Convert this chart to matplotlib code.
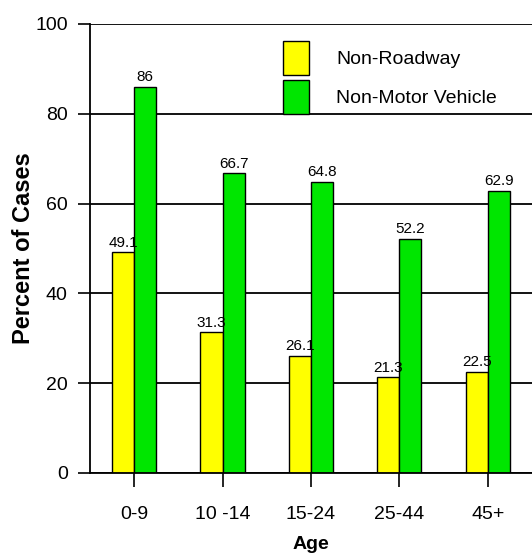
import numpy as np
import matplotlib.pyplot as plt

ages = ["0-9", "10 -14", "15-24", "25-44", "45+"]
non_roadway = [49.1, 31.3, 26.1, 21.3, 22.5]
non_motor = [86, 66.7, 64.8, 52.2, 62.9]
yellow_labels = ["49.1", "31.3", "26.1", "21.3", "22.5"]
green_labels = ["86", "66.7", "64.8", "52.2", "62.9"]

plt.rcParams["font.family"] = ["Liberation Sans", "DejaVu Sans"]

fig = plt.figure(figsize=(5.32, 5.57), dpi=100)
ax = fig.add_axes([0.169, 0.151, 0.831, 0.806])

x = np.arange(len(ages))
w = 0.25
ax.set_axisbelow(True)
ax.yaxis.grid(True, color="black", linewidth=1.3)
ax.bar(x - w / 2, non_roadway, w, color="#ffff00", edgecolor="black",
       linewidth=1.0, label="Non-Roadway")
ax.bar(x + w / 2, non_motor, w, color="#00e600", edgecolor="black",
       linewidth=1.0, label="Non-Motor Vehicle")

for xi, v, t in zip(x, non_roadway, yellow_labels):
    ax.text(xi - w / 2, v + 0.6, t, ha="center", va="bottom", fontsize=11)
for xi, v, t in zip(x, non_motor, green_labels):
    ax.text(xi + w / 2, v + 0.6, t, ha="center", va="bottom", fontsize=11)

ax.set_xlim(-0.5, 4.5)
ax.set_ylim(0, 100)
ax.set_yticks([0, 20, 40, 60, 80, 100])
ax.set_xticks(x)
ax.set_xticklabels(ages)
ax.tick_params(axis="y", length=9, width=1.2, labelsize=14, pad=7)
ax.tick_params(axis="x", length=10, width=1.2, labelsize=14, pad=14)

for s in ["top", "right"]:
    ax.spines[s].set_visible(False)
ax.spines["left"].set_linewidth(1.3)
ax.spines["bottom"].set_linewidth(1.3)

ax.set_xlabel("Age", fontsize=14, fontweight="bold", labelpad=9)
ax.set_ylabel("Percent of Cases", fontsize=17, fontweight="bold", labelpad=0)

ax.legend(loc="upper left", bbox_to_anchor=(0.397, 1.0), frameon=False,
          fontsize=14, handlelength=1.34, handleheight=2.3,
          labelspacing=0.25, handletextpad=1.4)

fig.savefig("out.png", dpi=100)
